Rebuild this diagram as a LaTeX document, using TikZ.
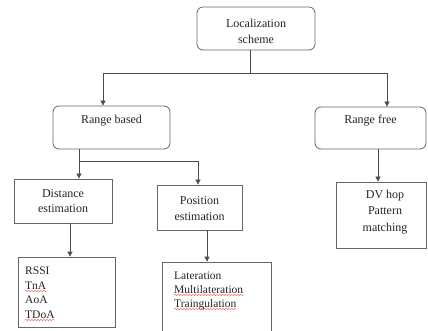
\documentclass[tikz,border=0pt]{standalone}
\usepackage{fontspec}
\setmainfont{Liberation Serif}
\usetikzlibrary{arrows.meta,decorations.pathmorphing}
\begin{document}
\begin{tikzpicture}[x=1pt,y=-1pt,
 rbox/.style={draw=black!60,line width=0.8pt,rounded corners=6pt,inner sep=0pt},
 sbox/.style={draw=black!60,line width=0.8pt,inner sep=0pt},
 conn/.style={draw=black!70,line width=0.8pt},
 arr/.style={conn,-{Triangle[length=5pt,width=5pt]}},
 lbl/.style={font=\fontsize{12}{16}\selectfont,align=center,inner sep=0pt,text=black!85},
 itm/.style={font=\fontsize{11.5}{14}\selectfont,anchor=base west,inner sep=0pt,text=black!85},
 wavy/.style={draw=red!70,line width=0.4pt,decorate,decoration={snake,amplitude=0.6pt,segment length=3pt}}]
\useasboundingbox[fill=white] (0,0) rectangle (428,331);
% boxes
\node[rbox,minimum width=118pt,minimum height=43pt] (loc) at (256,28.5) {};
\node[rbox,minimum width=117pt,minimum height=43pt] (rb) at (111.5,127.5) {};
\node[rbox,minimum width=111pt,minimum height=42pt] (rf) at (370.5,128) {};
\node[sbox,minimum width=98pt,minimum height=44pt] (de) at (63,201) {};
\node[sbox,minimum width=85pt,minimum height=45pt] (pe) at (199.5,207.5) {};
\node[sbox,minimum width=97pt,minimum height=70pt] (rssi) at (66.5,292) {};
\node[sbox,minimum width=109pt,minimum height=83pt] (lat) at (216.5,303.5) {};
\node[sbox,minimum width=90pt,minimum height=66pt] (dv) at (381,215) {};
% labels
\node[lbl] (tloc) at (256,31) {Localization\\scheme};
\node[lbl] (trb) at (111.5,121) {Range based};
\node[lbl] (trf) at (370.5,121) {Range free};
\node[lbl,font=\fontsize{12}{15}\selectfont] (tde) at (63,201) {Distance\\estimation};
\node[lbl,font=\fontsize{12}{16}\selectfont] (tpe) at (199.5,209) {Position\\estimation};
\node[lbl,font=\fontsize{12}{16.5}\selectfont] (tdv) at (385,212) {DV hop\\Pattern\\matching};
\node[itm] (i1) at (25,274) {RSSI};
\node[itm] (i2) at (25,289) {TnA};
\node[itm] (i3) at (25,303.5) {AoA};
\node[itm] (i4) at (25,318) {TDoA};
\node[itm] (l1) at (174,279) {Lateration};
\node[itm] (l2) at (174,293) {Multilateration};
\node[itm] (l3) at (174,307) {Traingulation};
% spell-check underlines
\draw[wavy] ([yshift=-2pt]i2.base west) -- ([yshift=-2pt]i2.base east);
\draw[wavy] ([yshift=-2pt]i4.base west) -- ([yshift=-2pt]i4.base east);
\draw[wavy] ([yshift=-2pt]l2.base west) -- ([yshift=-2pt]l2.base east);
\draw[wavy] ([yshift=-2pt]l3.base west) -- ([yshift=-2pt]l3.base east);
% connectors
\coordinate (j1) at (250,73);
\coordinate (a1) at (103,73);
\coordinate (a2) at (387,73);
\draw[conn] (loc.south -| j1) -- (j1);
\draw[arr] (j1) -- (a1) -- (a1 |- rb.north);
\draw[arr] (j1) -- (a2) -- (a2 |- rf.north);
\coordinate (b0) at (79,161);
\coordinate (b1) at (198,161);
\draw[conn] (b0 |- rb.south) -- (b0);
\draw[arr] (b0) -- (b0 |- de.north);
\draw[arr] (b0) -- (b1) -- (b1 |- pe.north);
\coordinate (c1) at (70,240);
\coordinate (c2) at (207,245);
\coordinate (c3) at (378,165);
\draw[arr] (c1 |- de.south) -- (c1 |- rssi.north);
\draw[arr] (c2 |- pe.south) -- (c2 |- lat.north);
\draw[arr] (c3 |- rf.south) -- (c3 |- dv.north);
\end{tikzpicture}
\end{document}
